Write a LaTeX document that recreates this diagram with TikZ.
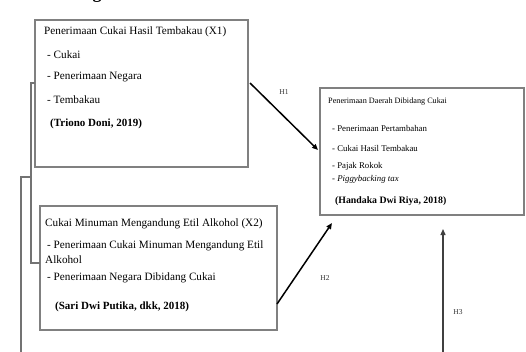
\documentclass[tikz,border=0pt]{standalone}
\usepackage{fontspec}
\setmainfont{Liberation Serif}
\usetikzlibrary{arrows.meta}
\begin{document}
\begin{tikzpicture}[x=1pt,y=-1pt,
  box/.style={draw=black!50,line width=1.2pt,rectangle,inner sep=0pt},
  txt/.style={anchor=west,inner sep=0pt},
  fa/.style={font=\fontsize{11.2}{13}\selectfont},
  fab/.style={font=\fontsize{11}{13}\selectfont\bfseries},
  fb/.style={font=\fontsize{11.2}{13}\selectfont},
  fbb/.style={font=\fontsize{11}{13}\selectfont\bfseries},
  fc/.style={font=\fontsize{8.8}{10}\selectfont},
  fct/.style={font=\fontsize{8.2}{10}\selectfont},
  fcb/.style={font=\fontsize{9.8}{11}\selectfont\bfseries},
  lbl/.style={inner sep=0pt,font=\fontsize{7.5}{9}\selectfont,text=black!80},
  arr/.style={draw=black,line width=1.5pt,-{Triangle[length=6pt,width=5pt]}},
  link/.style={draw=black!55,line width=1.1pt}]
\useasboundingbox (0,0) rectangle (526,351);
\clip (0,0) rectangle (526,351);
% cut-off heading fragment
\node[inner sep=0pt,anchor=base,font=\fontsize{18}{20}\selectfont\bfseries] (frag) at (97,-1.5) {g};
% boxes
\node[box,minimum width=213pt,minimum height=147pt] (x1) at (141.5,93.5) {};
\node[box,minimum width=237pt,minimum height=124pt] (x2) at (158.5,268) {};
\node[box,minimum width=204pt,minimum height=127pt] (y) at (422,151.5) {};
% box X1 text
\node[txt,fa] (x1t) at (44,32) {Penerimaan Cukai Hasil Tembakau (X1)};
\node[txt,fa] (x1a) at (47,55) {- Cukai};
\node[txt,fa] (x1b) at (47,77) {- Penerimaan Negara};
\node[txt,fa] (x1c) at (47,100) {- Tembakau};
\node[txt,fab] (x1r) at (50,124) {(Triono Doni, 2019)};
% box Y text
\node[txt,fct] (yt) at (328,102) {Penerimaan Daerah Dibidang Cukai};
\node[txt,fc] (ya) at (332,128) {- Penerimaan Pertambahan};
\node[txt,fc] (yb) at (332,148) {- Cukai Hasil Tembakau};
\node[txt,fc] (yc) at (332,166) {- Pajak Rokok};
\node[txt,fc] (yd) at (332,179) {- \textit{Piggybacking tax}};
\node[txt,fcb] (yr) at (335,201) {(Handaka Dwi Riya, 2018)};
% box X2 text
\node[txt,fb] (x2t) at (45,224) {Cukai Minuman Mengandung Etil Alkohol (X2)};
\node[txt,fb] (x2a) at (47,246) {- Penerimaan Cukai Minuman Mengandung Etil};
\node[txt,fb] (x2b) at (45,260) {Alkohol};
\node[txt,fb] (x2c) at (47,278) {- Penerimaan Negara Dibidang Cukai};
\node[txt,fbb] (x2r) at (55,307) {(Sari Dwi Putika, dkk, 2018)};
% coordinates for connectors
\coordinate (h1s) at (250,83);
\coordinate (h1e) at (318,150);
\coordinate (h2s) at (277,304);
\coordinate (h2e) at (332,223);
\coordinate (h3e) at (443,229);
\coordinate (x1l) at (35,83);
\coordinate (x2l) at (40,263);
\coordinate (br) at (31,177);
% arrows
\draw[arr] (h1s) -- (h1e);
\draw[arr] (h2s) -- (h2e);
\draw[link] (br) -- (21,177) -- (21,400) -- (443,400) -- (443,236);
\draw[arr,draw=black!75,line width=1.3pt] (443,360) -- (h3e);
\draw[link] (x1l) -- (31,83) -- (31,263) -- (x2l);
% labels
\node[lbl] (l1) at (284,92) {H1};
\node[lbl] (l2) at (325,278) {H2};
\node[lbl] (l3) at (458,312) {H3};
\end{tikzpicture}
\end{document}
